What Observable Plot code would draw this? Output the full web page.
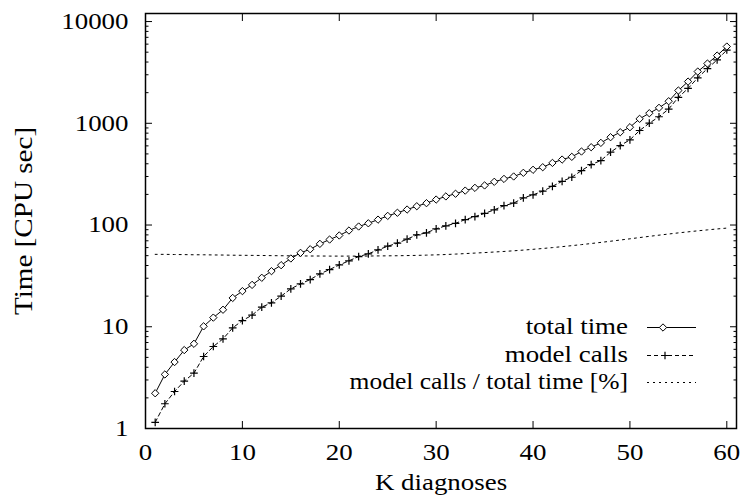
<!DOCTYPE html>
<html><head><meta charset="utf-8">
<script src="https://cdn.jsdelivr.net/npm/d3@7"></script>
<script src="https://cdn.jsdelivr.net/npm/@observablehq/plot@0.6"></script>
<style>
html,body{margin:0;padding:0;background:#fff;}
</style></head><body><div id="chart"></div>
<script>
const kValues = Array.from({length: 60}, (_, i) => i + 1);
const totalTime = [2.22,3.4,4.5,5.9,6.8,10.1,12.3,14.7,19.2,22.4,
  25.8,30.3,35.2,40.3,46.9,53.3,57.8,65.3,72,78.9,
  88.3,96.7,104,113,123,132,142,153,164,178,
  191,203,218,232,245,266,284,300,326,349,
  370,408,440,468,528,582,642,730,817,915,
  1106,1256,1419,1648,2100,2570,3225,3865,4630,5680];
const modelCalls = [1.15,1.75,2.31,2.92,3.5,5.1,6.4,7.6,9.76,11.5,
  13.0,15.6,17.2,20.0,23.6,26.4,29.1,33.1,36.5,40.5,
  44.5,49,52.1,57,61.9,66.3,72.6,80,83.8,91.8,
  98.2,104,113,121,130,141,155,164,185,198,
  215,240,269,295,343,393,430,520,604,688,
  849,1002,1160,1380,1800,2200,2800,3450,4200,5250];
const ratioPct = [51.5,51.5,51.3,51.2,51.0,51.0,50.8,50.7,50.5,50.4,
  50.3,50.2,50.0,49.9,49.8,49.7,49.6,49.6,49.5,49.5,
  49.5,49.5,49.6,49.7,49.8,49.9,50.1,50.3,50.6,50.9,
  51.3,51.8,52.4,53.0,53.6,54.3,55.0,55.8,56.7,57.7,
  58.8,60.0,61.3,62.7,64.2,65.8,67.5,69.3,71.2,73.2,
  75.3,77.4,79.5,81.6,83.7,85.7,87.7,89.6,91.5,93.3];
const xTicks = [0,10,20,30,40,50,60];
const yTicks = [1,10,100,1000,10000];
const yTickLabels = ["1","10","100","1000","10000"];
const xLabel = "K diagnoses";
const yLabel = "Time [CPU sec]";
const legendLabels = ["total time","model calls","model calls / total time [%]"];

const rows = kValues.map((k, i) => ({k, total: totalTime[i], model: modelCalls[i], ratio: ratioPct[i]}));
const yMinor = [];
for (let d = 1; d < 10000; d *= 10) for (let m = 2; m <= 9; m++) yMinor.push(d * m);

const FONT = "'Liberation Serif','Times New Roman',Times,serif";
const plot = Plot.plot({
  width: 742, height: 497,
  marginLeft: 145, marginRight: 6, marginTop: 13, marginBottom: 69,
  style: {fontFamily: FONT, fontSize: "23px", color: "black", background: "white", overflow: "visible"},
  x: {domain: [0, 61]},
  y: {type: "log", domain: [1, 12000]},
  marks: [
    Plot.line(rows, {x: "k", y: "ratio", stroke: "black", strokeWidth: 1, strokeDasharray: "2,4"}),
    Plot.line(rows, {x: "k", y: "model", stroke: "black", strokeWidth: 1, strokeDasharray: "4,3"}),
    Plot.dot(rows, {x: "k", y: "model", symbol: "plus", r: 2.6, stroke: "black", strokeWidth: 1.2}),
    Plot.line(rows, {x: "k", y: "total", stroke: "black", strokeWidth: 1}),
    Plot.dot(rows, {x: "k", y: "total", symbol: "diamond2", r: 3.3, stroke: "black", fill: "white", strokeWidth: 1}),
    Plot.axisY(yMinor, {anchor: "left", tickSize: -3.5, fill: "none", label: null}),
    Plot.axisY(yMinor, {anchor: "right", tickSize: -3.5, fill: "none", label: null}),
    Plot.axisY(yTicks, {anchor: "left", tickSize: -7, fill: "none", label: null}),
    Plot.axisY(yTicks, {anchor: "right", tickSize: -7, fill: "none", label: null}),
    Plot.axisY(yTicks, {anchor: "left", tickSize: 0, tickPadding: 17, tickFormat: d => yTickLabels[yTicks.indexOf(d)], label: null}),
    Plot.axisX(xTicks, {anchor: "bottom", tickSize: -7, fill: "none", label: null}),
    Plot.axisX(xTicks, {anchor: "top", tickSize: -7, fill: "none", label: null}),
    Plot.axisX(xTicks, {anchor: "bottom", tickSize: 0, tickPadding: 15, tickFormat: d => String(d), label: null}),
    Plot.text([xLabel], {frameAnchor: "bottom", dy: 61, text: d => d}),
    Plot.text([yLabel], {frameAnchor: "left", dx: -122, rotate: -90, textAnchor: "middle", text: d => d, fontSize: 26}),
    Plot.frame({stroke: "black", strokeWidth: 1.5})
  ]
});

// legend
const svg = d3.select(plot);
const lg = svg.append("g").attr("font-family", FONT).attr("font-size", 23);
const legendRows = [
  {y: 327, dash: null, symbol: d3.symbolDiamond2, r: 3.3, sx: 663, fill: "white", sw: 1},
  {y: 355, dash: "4,3", symbol: d3.symbolPlus, r: 2.6, sx: 665, fill: "none", sw: 1.2},
  {y: 382, dash: "2,4", symbol: null}
];
legendRows.forEach((row, i) => {
  lg.append("text").attr("x", 628).attr("y", row.y).attr("dy", "0.32em")
    .attr("text-anchor", "end").attr("fill", "black").text(legendLabels[i]);
  lg.append("line").attr("x1", 647).attr("x2", 696).attr("y1", row.y + 0.5).attr("y2", row.y + 0.5)
    .attr("stroke", "black").attr("stroke-width", 1).attr("stroke-dasharray", row.dash);
  if (row.symbol) {
    lg.append("path").attr("d", d3.symbol(row.symbol, Math.PI * row.r * row.r)())
      .attr("transform", `translate(${row.sx},${row.y + 0.5})`)
      .attr("stroke", "black").attr("fill", row.fill).attr("stroke-width", row.sw);
  }
});

// horizontal stretch of the serif text to match the reference's wide glyphs
svg.selectAll("text").each(function () {
  const txt = this.textContent;
  const s = txt === yLabel ? 1.12 : txt === legendLabels[2] ? 1.11 : 1.17;
  const t = this.getAttribute("transform");
  if (t) this.setAttribute("transform", t + ` scale(${s},1)`);
  else {
    const x = +this.getAttribute("x") || 0;
    this.setAttribute("transform", `translate(${x},0) scale(${s},1) translate(${-x},0)`);
  }
});

document.getElementById("chart").appendChild(plot);
</script>
</body></html>
